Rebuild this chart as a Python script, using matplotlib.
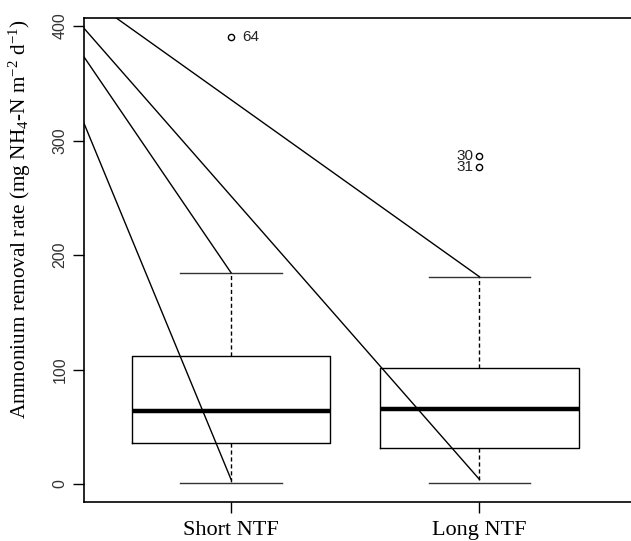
import matplotlib
matplotlib.use("Agg")
import matplotlib.pyplot as plt

plt.rcParams["mathtext.fontset"] = "custom"
plt.rcParams["mathtext.rm"] = "Liberation Serif"
plt.rcParams["mathtext.it"] = "Liberation Serif:italic"
plt.rcParams["mathtext.bf"] = "Liberation Serif:bold"

# ---- data ----
categories = ["Short NTF", "Long NTF"]
whisker_low = [0.5, 0.5]
q1 = [35.5, 31.5]
medians = [64.0, 65.5]
q3 = [111.5, 101.0]
whisker_high = [184.5, 181.0]
outliers = [[390.0], [286.5, 277.0]]
outlier_labels = [["64"], ["30", "31"]]

# diagonal lines: (x0, y0) -> (x1, y1) in data units
line_x0 = [0.408, 0.408, 0.408, 0.538]
line_y0 = [315.0, 373.0, 398.0, 407.0]
line_x1 = [1.0, 1.0, 2.0, 2.0]
line_y1 = [4.0, 184.5, 4.0, 181.0]

yticks = [0, 100, 200, 300, 400]

# ---- figure ----
W, H = 631, 541
fig = plt.figure(figsize=(W / 100, H / 100), dpi=100)
ax = fig.add_axes([84 / W, (H - 502) / H, (W - 84) / W, (502 - 18) / H])

stats = []
for i, c in enumerate(categories):
    stats.append(dict(label=c, whislo=whisker_low[i], q1=q1[i], med=medians[i],
                      q3=q3[i], whishi=whisker_high[i], fliers=outliers[i]))

ax.bxp(stats, positions=[1, 2], widths=0.8, showfliers=True,
       boxprops=dict(color="black", linewidth=1.0),
       medianprops=dict(color="black", linewidth=3.2, solid_capstyle="butt"),
       whiskerprops=dict(color="black", linewidth=1.0, linestyle=(0, (3, 2))),
       capprops=dict(color="#333333", linewidth=1.0),
       capwidths=0.41,
       flierprops=dict(marker="o", markersize=4.5, markerfacecolor="none",
                       markeredgecolor="black", markeredgewidth=1.0))

for xa, ya, xb, yb in zip(line_x0, line_y0, line_x1, line_y1):
    ax.plot([xa, xb], [ya, yb], color="black", linewidth=1.0)

# outlier labels
sans = "Liberation Sans"
serif = "Liberation Serif"
for v, t in zip(outliers[0], outlier_labels[0]):
    ax.text(1.045, v, t, fontsize=11, family=sans, ha="left", va="center",
            color="#222222")
for v, t in zip(outliers[1], outlier_labels[1]):
    ax.text(1.975, v, t, fontsize=11, family=sans, ha="right", va="center",
            color="#222222")

ax.set_xlim(0.408, 2.61)
ax.set_ylim(-15.7, 407)

ax.set_yticks(yticks)
ax.set_yticklabels([str(v) for v in yticks], rotation=90, va="center",
                   family=sans, fontsize=11.5, color="#333333")
ax.set_xticks([1, 2])
ax.set_xticklabels(categories, family=serif, fontsize=16)
ax.tick_params(axis="y", length=8, width=1.0, pad=4)
ax.tick_params(axis="x", length=8, width=1.0, pad=6)

for s in ["left", "top", "bottom"]:
    ax.spines[s].set_linewidth(1.2)
ax.spines["right"].set_visible(False)

ax.set_ylabel("Ammonium removal rate (mg NH$_{4}$-N m$^{-2}$ d$^{-1}$)",
              family=serif, fontsize=15.3)
ax.yaxis.set_label_coords(-0.093, 0.585)

fig.savefig("out.png", dpi=100)
